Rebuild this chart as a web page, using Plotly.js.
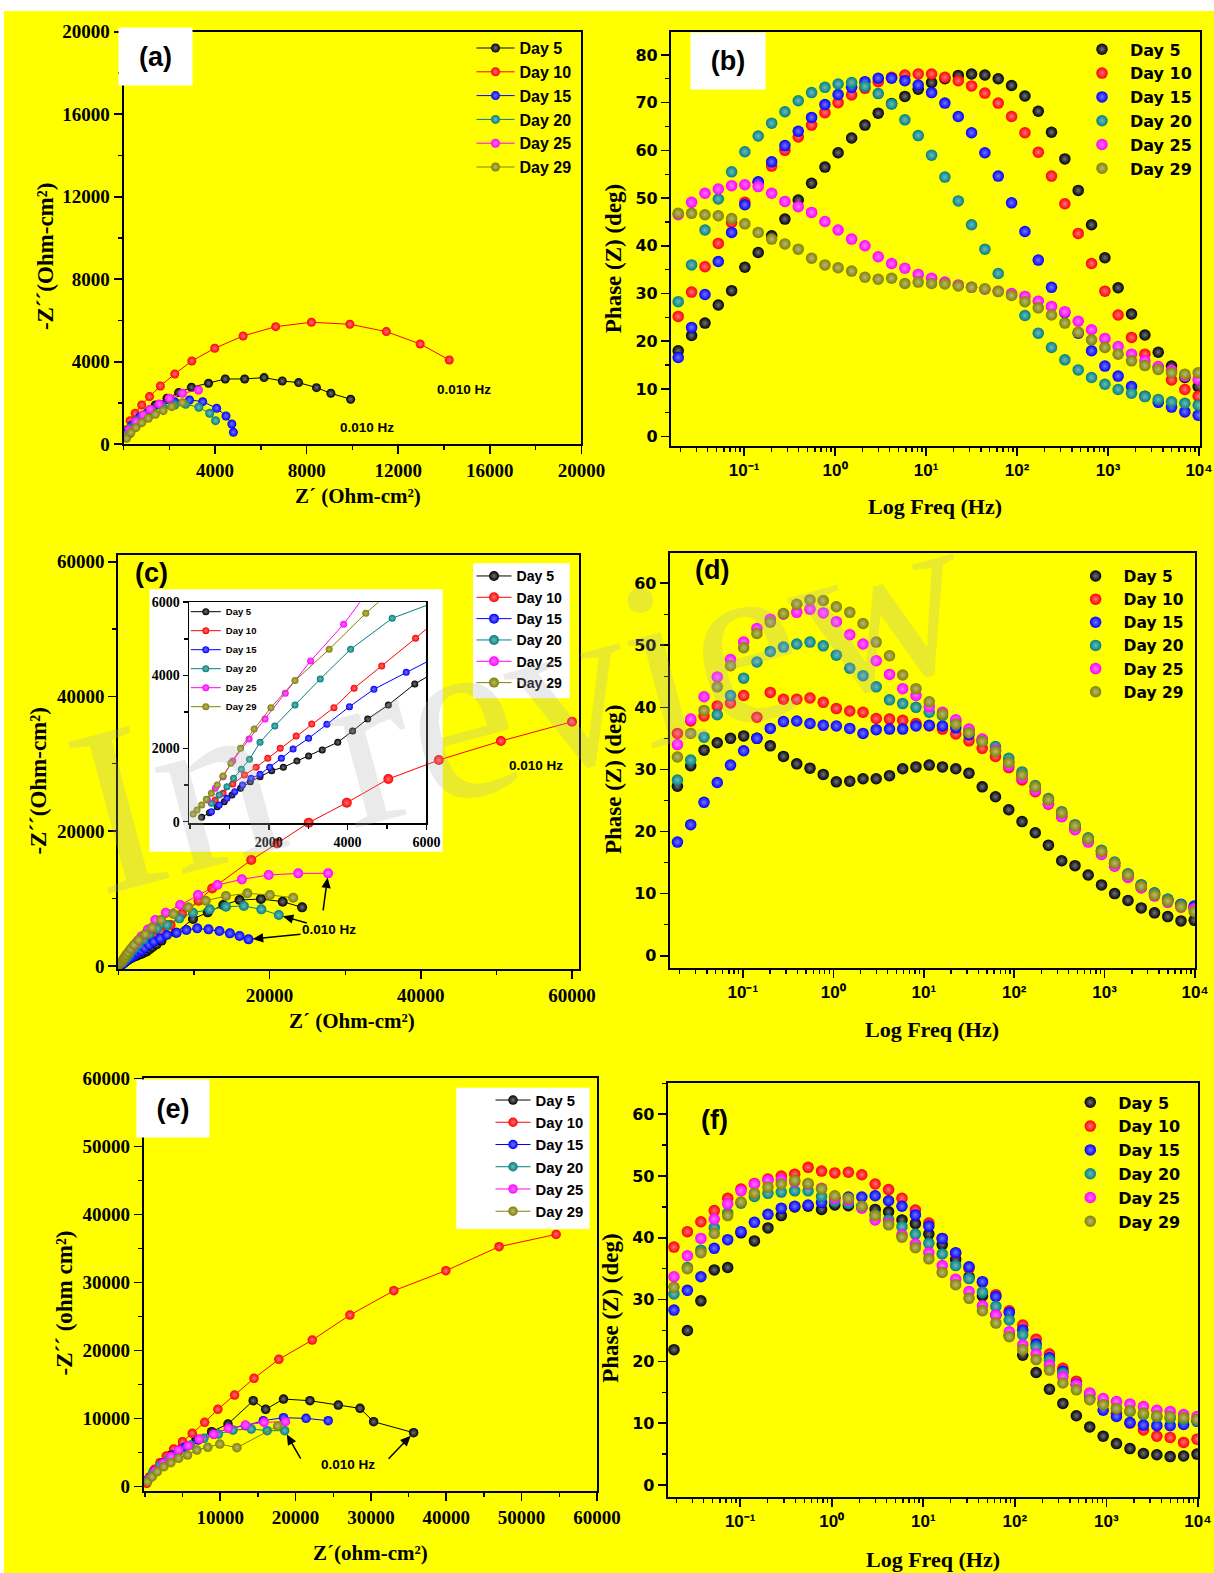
<!DOCTYPE html>
<html>
<head>
<meta charset="utf-8">
<script src="https://cdn.plot.ly/plotly-3.0.1.min.js"></script>
<style>
html,body{margin:0;padding:0;background:#ffffff;}
#chart{width:1214px;height:1573px;}
</style>
</head>
<body>
<div id="chart"></div>
<script>
// ---------------- DATA ----------------
const dayNames = ['Day 5', 'Day 10', 'Day 15', 'Day 20', 'Day 25', 'Day 29'];

// Frequencies (Hz) of the Bode points
const freqHz = [0.0189, 0.0265, 0.0372, 0.0521, 0.0730, 0.102, 0.143, 0.201, 0.281, 0.394,
  0.552, 0.774, 1.08, 1.52, 2.13, 2.98, 4.18, 5.85, 8.20, 11.5,
  16.1, 22.6, 31.6, 44.3, 62.1, 87.0, 122, 171, 239, 335,
  470, 658, 923, 1290, 1810, 2540, 3560, 4980, 6980, 9780];

// (a) Nyquist
const a_re_d5  = [288, 628, 1018, 1391, 1900, 2408, 2968, 3714, 4444, 5292, 6140, 6936, 7649, 8429, 9057, 9922];
const a_im_d5  = [533, 1018, 1503, 1907, 2230, 2505, 2763, 2957, 3167, 3167, 3232, 3070, 2990, 2747, 2472, 2182];
const a_re_d10 = [119, 288, 509, 797, 1136, 1611, 2239, 2985, 3986, 5224, 6648, 8209, 9888, 11481, 12957, 14229];
const a_im_d10 = [695, 1147, 1503, 1907, 2311, 2828, 3410, 4040, 4654, 5252, 5704, 5915, 5818, 5462, 4864, 4088];
const a_re_d15 = [119, 373, 712, 1136, 1645, 2239, 2883, 3460, 4070, 4477, 4732, 4800];
const a_im_d15 = [533, 937, 1341, 1665, 1907, 2068, 2149, 2068, 1745, 1374, 986, 582];
const a_re_d20 = [68, 254, 543, 882, 1272, 1730, 2239, 2714, 3290, 3765, 4020];
const a_im_d20 = [452, 776, 1147, 1422, 1632, 1794, 1907, 1939, 1794, 1503, 1147];
const a_re_d25 = [254, 543, 848, 1170, 1560, 2001, 2578, 3273];
const a_im_d25 = [695, 1099, 1422, 1697, 1955, 2230, 2472, 2634];
const a_re_d29 = [136, 322, 543, 797, 1085, 1391, 1730, 2103, 2578];
const a_im_d29 = [291, 566, 808, 1050, 1260, 1454, 1632, 1826, 2020];

// (b) Bode phase
const b_d5  = [18.0, 21.2, 23.8, 27.6, 30.6, 35.5, 38.6, 42.1, 45.6, 49.6, 53.1, 56.5, 59.5, 62.6, 65.3, 67.8, 69.8, 71.3, 72.8, 74.2, 75.0, 75.7, 76.0, 75.8, 75.0, 73.6, 71.4, 68.2, 63.8, 58.2, 51.6, 44.4, 37.5, 31.2, 25.7, 21.3, 17.7, 14.8, 12.4, 10.5];
const b_d10 = [25.2, 30.3, 35.6, 40.5, 44.9, 49.1, 53.3, 56.7, 60.0, 62.8, 65.3, 67.9, 70.0, 71.6, 73.0, 74.4, 75.3, 75.8, 76.0, 76.0, 75.3, 74.6, 73.5, 72.0, 69.9, 67.1, 63.7, 59.6, 54.6, 48.8, 42.6, 36.3, 30.5, 25.5, 20.8, 17.3, 14.5, 11.9, 9.9, 8.5];
const b_d15 = [16.6, 22.9, 29.8, 36.7, 42.8, 48.6, 53.4, 57.6, 61.0, 64.0, 66.9, 69.6, 71.7, 73.2, 74.4, 75.1, 75.1, 74.6, 73.7, 72.1, 69.9, 67.1, 63.7, 59.5, 54.6, 49.0, 43.0, 37.0, 31.3, 26.0, 21.7, 18.0, 14.8, 12.7, 10.5, 8.5, 7.2, 6.2, 5.2, 4.5];
const b_d20 = [28.3, 36.0, 43.3, 49.8, 55.5, 59.7, 63.0, 65.7, 68.1, 70.4, 72.1, 73.2, 73.9, 74.2, 73.4, 71.9, 69.7, 66.4, 63.1, 59.0, 54.4, 49.4, 44.4, 39.3, 34.2, 29.7, 25.4, 21.7, 18.7, 16.1, 14.0, 12.4, 11.0, 9.9, 9.1, 8.4, 7.8, 7.3, 7.0, 6.6];
const b_d25 = [46.5, 49.1, 51.0, 51.9, 52.6, 52.8, 52.4, 51.0, 49.3, 48.2, 47.0, 45.1, 43.3, 41.4, 40.0, 37.7, 36.3, 35.3, 34.0, 33.2, 32.4, 31.8, 31.3, 30.9, 30.5, 30.0, 29.4, 28.4, 27.3, 26.2, 24.2, 22.4, 20.6, 18.9, 17.3, 15.9, 14.7, 13.9, 12.7, 12.0];
const b_d29 = [46.8, 46.8, 46.5, 46.3, 45.7, 44.6, 42.8, 41.4, 40.4, 39.3, 37.4, 36.0, 35.4, 34.7, 33.4, 33.0, 33.2, 32.1, 32.4, 32.1, 32.0, 31.6, 31.3, 31.0, 30.4, 29.6, 28.3, 27.0, 25.5, 23.8, 21.9, 20.3, 18.7, 17.3, 15.9, 14.9, 14.1, 13.4, 13.1, 13.4];

// (c) Nyquist (also drawn in the inset)
const c_re_d5  = [296, 494, 691, 869, 1066, 1283, 1530, 1777, 2073, 2369, 2714, 3010, 3356, 3751, 4126, 4511, 5034, 5705, 7600, 9863, 11815, 13870, 16028, 18853, 21730, 24298];
const c_im_d5  = [119, 246, 410, 547, 730, 912, 1094, 1231, 1395, 1487, 1660, 1797, 1961, 2171, 2481, 2809, 3192, 3767, 4950, 6974, 7963, 9051, 9793, 9941, 9546, 8705];
const c_re_d10 = [641, 839, 1086, 1382, 1678, 1974, 2290, 2695, 3089, 3652, 4165, 4866, 5725, 6900, 8400, 10600, 12400, 17569, 21010, 25171, 30206, 35700, 42380, 50600, 60000];
const c_im_d10 = [593, 775, 1031, 1277, 1487, 1733, 2006, 2344, 2672, 3119, 3648, 4259, 5016, 6100, 7700, 9700, 11500, 15728, 18201, 21268, 24236, 27747, 30566, 33385, 36254];
const c_re_d15 = [543, 740, 938, 1135, 1332, 1550, 1777, 2023, 2319, 2616, 3010, 3474, 4047, 4668, 5488, 6421, 7706, 8990, 10428, 11918, 13356, 14743, 16028, 17209];
const c_im_d15 = [274, 456, 638, 821, 1003, 1186, 1295, 1487, 1733, 1988, 2280, 2663, 3146, 3621, 4086, 4600, 4946, 5342, 5589, 5441, 5193, 4847, 4451, 3957];
const c_re_d20 = [543, 740, 938, 1105, 1303, 1510, 1777, 2152, 2665, 3306, 4076, 5132, 6421, 8065, 9863, 12072, 14230, 16592, 18904, 21216];
const c_im_d20 = [502, 730, 958, 1186, 1432, 1705, 2171, 2617, 3192, 3903, 4715, 5563, 6084, 7073, 7914, 8408, 8804, 8903, 8408, 7567];
const c_re_d25 = [444, 641, 839, 1086, 1500, 1905, 2418, 3060, 3899, 4880, 6267, 8168, 10531, 13100, 16336, 19880, 23784, 27740];
const c_im_d25 = [593, 912, 1231, 1660, 2262, 2809, 3511, 4396, 5399, 6826, 7914, 9051, 10535, 12019, 12860, 13503, 13750, 13750];
const c_re_d29 = [79, 178, 296, 415, 543, 691, 839, 1036, 1283, 1629, 2053, 2665, 3533, 4461, 5651, 7295, 9247, 11558, 14230, 17055, 20034, 23117];
const c_im_d29 = [210, 319, 456, 611, 775, 1003, 1249, 1596, 2006, 2535, 3119, 3858, 4715, 5700, 6825, 7716, 8705, 9694, 10387, 10782, 10535, 10139];

// (d) Bode phase
const d_d5  = [27.3, 30.6, 33.1, 34.3, 35.0, 35.4, 35.0, 33.8, 32.1, 30.9, 30.2, 29.2, 28.0, 28.1, 28.5, 28.5, 29.0, 30.1, 30.4, 30.7, 30.4, 30.1, 29.4, 27.2, 25.6, 23.5, 21.6, 19.8, 17.8, 15.3, 14.5, 13.0, 11.4, 10.0, 8.9, 7.7, 6.9, 6.3, 5.6, 5.7];
const d_d10 = [35.8, 37.8, 38.6, 40.2, 40.7, 41.9, 38.4, 42.4, 41.3, 41.3, 41.5, 40.8, 39.8, 39.4, 39.2, 38.2, 38.1, 37.9, 37.4, 37.0, 36.5, 35.7, 34.6, 33.4, 32.1, 30.3, 28.3, 26.4, 24.4, 22.4, 20.4, 18.4, 16.4, 14.5, 12.7, 11.0, 9.8, 8.9, 8.2, 7.9];
const d_d15 = [18.3, 21.1, 24.7, 27.9, 30.7, 33.0, 35.0, 36.6, 37.7, 37.8, 37.4, 37.1, 37.0, 36.6, 35.8, 36.4, 36.5, 36.5, 37.0, 37.1, 37.0, 36.7, 35.6, 34.5, 33.0, 31.2, 29.1, 27.1, 25.0, 22.9, 20.8, 18.8, 16.8, 14.9, 13.1, 11.4, 10.1, 9.1, 8.3, 8.0];
const d_d20 = [28.3, 31.5, 35.2, 38.8, 41.9, 44.7, 47.3, 49.0, 49.7, 50.2, 50.5, 49.9, 48.4, 46.3, 45.1, 43.3, 41.2, 40.6, 40.0, 39.2, 38.7, 37.8, 36.3, 34.8, 33.7, 31.8, 29.6, 27.4, 25.3, 23.2, 21.1, 19.0, 17.0, 15.1, 13.2, 11.4, 10.1, 9.1, 8.2, 7.6];
const d_d25 = [34.0, 38.1, 41.7, 44.9, 47.7, 50.5, 52.7, 54.2, 55.0, 55.3, 55.8, 55.2, 53.8, 51.7, 50.2, 47.5, 45.3, 43.0, 41.9, 40.1, 39.2, 38.0, 36.5, 34.9, 33.1, 30.6, 28.6, 26.6, 24.5, 22.4, 20.3, 18.3, 16.3, 14.4, 12.6, 10.9, 9.6, 8.6, 7.8, 7.5];
const d_d29 = [32.0, 35.8, 39.5, 43.3, 46.7, 49.6, 51.9, 53.7, 55.1, 56.6, 57.3, 57.2, 56.2, 55.3, 53.5, 50.5, 48.3, 45.2, 43.0, 40.9, 38.9, 37.3, 35.9, 34.5, 32.9, 31.1, 29.1, 27.2, 25.1, 23.0, 20.9, 18.8, 16.8, 14.9, 13.0, 11.2, 9.8, 8.8, 7.9, 7.1];

// (e) Nyquist
const e_re_d5  = [361, 1134, 2165, 3454, 5000, 6805, 8867, 11031, 14382, 16032, 18403, 21909, 25672, 28559, 30363, 35673];
const e_im_d5  = [979, 2204, 3428, 4652, 5876, 6954, 8080, 9206, 12634, 11361, 12879, 12634, 11998, 11508, 9549, 7933];
const e_re_d10 = [258, 670, 1289, 2010, 2835, 3815, 5000, 6289, 7939, 9692, 11908, 14486, 17785, 22218, 27218, 33044, 39951, 47014, 54591];
const e_im_d10 = [490, 1469, 2546, 3526, 4505, 5534, 6611, 7835, 9451, 11361, 13467, 15915, 18707, 21547, 25220, 28794, 31733, 35258, 37070];
const e_re_d15 = [515, 1289, 2320, 3712, 5258, 7062, 9124, 11186, 13351, 15723, 18403, 21393, 24332];
const e_im_d15 = [1224, 2351, 3428, 4652, 5778, 6856, 7737, 8570, 8962, 9696, 10137, 10039, 9696];
const e_re_d20 = [361, 1031, 2010, 3196, 4485, 6031, 7836, 9743, 11702, 14125, 16238, 18558];
const e_im_d20 = [979, 2057, 3183, 4162, 5142, 6121, 7101, 7737, 8325, 8472, 8227, 8227];
const e_re_d25 = [619, 1392, 2423, 3454, 4485, 5774, 7217, 9124, 11083, 13351, 15826, 18661];
const e_im_d25 = [1224, 2351, 3428, 4407, 5387, 6023, 7003, 7688, 8570, 9059, 9451, 9549];
const e_re_d29 = [361, 979, 1650, 2526, 3454, 4485, 5671, 6908, 8351, 9949, 12217, 17630];
const e_im_d29 = [735, 1469, 2204, 2938, 3526, 4162, 4652, 5387, 5778, 6268, 5729, 8913];

// (f) Bode phase
const f_d5  = [21.9, 25.0, 29.8, 34.8, 35.2, 40.8, 39.5, 41.6, 43.6, 45.0, 45.1, 44.6, 45.3, 45.2, 45.0, 44.6, 44.2, 42.9, 42.3, 40.6, 38.9, 36.5, 33.7, 30.6, 27.5, 24.2, 21.0, 18.2, 15.5, 13.2, 11.2, 9.4, 7.9, 6.7, 5.9, 5.1, 4.9, 4.6, 4.7, 5.0];
const f_d10 = [38.5, 41.0, 42.6, 44.4, 46.4, 47.9, 48.8, 49.5, 50.0, 50.3, 51.4, 50.8, 50.5, 50.6, 50.2, 48.7, 47.8, 46.4, 44.5, 42.4, 39.9, 37.5, 35.1, 32.8, 30.8, 28.2, 25.9, 23.6, 21.2, 18.9, 16.8, 14.8, 13.2, 11.6, 10.0, 8.9, 7.9, 7.7, 6.9, 7.4];
const f_d15 = [28.3, 31.5, 33.7, 38.3, 39.7, 41.0, 42.5, 43.8, 44.8, 45.1, 45.3, 45.7, 46.4, 46.6, 46.6, 46.8, 46.0, 45.1, 43.7, 41.9, 39.9, 37.6, 35.3, 32.9, 30.5, 27.9, 25.1, 22.8, 20.6, 18.4, 16.3, 14.0, 12.1, 11.1, 10.1, 9.7, 9.6, 9.6, 9.8, 10.3];
const f_d20 = [30.9, 35.2, 38.0, 41.6, 44.0, 45.6, 46.7, 47.2, 47.4, 47.6, 47.6, 46.7, 45.9, 45.6, 45.0, 43.7, 42.9, 41.8, 40.6, 39.1, 37.4, 35.5, 33.4, 31.2, 28.9, 26.7, 24.3, 22.3, 20.2, 18.1, 16.2, 14.6, 13.3, 12.4, 11.9, 11.4, 11.0, 10.8, 10.6, 10.4];
const f_d25 = [33.7, 37.1, 39.9, 43.0, 45.5, 47.6, 48.7, 49.3, 49.4, 49.1, 48.7, 48.0, 46.4, 46.1, 44.8, 42.9, 42.4, 40.5, 39.0, 37.6, 35.5, 33.3, 31.3, 29.0, 27.5, 24.8, 22.7, 21.2, 19.4, 17.5, 16.2, 14.9, 14.0, 13.5, 13.1, 12.7, 12.1, 11.9, 11.4, 11.1];
const f_d29 = [32.0, 35.0, 37.6, 40.7, 43.6, 45.8, 47.2, 48.2, 48.7, 49.3, 48.8, 47.9, 46.8, 46.4, 45.1, 43.6, 42.1, 40.1, 38.4, 36.6, 34.4, 32.4, 30.2, 28.2, 26.2, 24.0, 21.9, 20.3, 18.6, 16.5, 15.4, 13.8, 13.0, 12.4, 12.0, 11.6, 11.2, 11.1, 10.9, 10.6];

// Tick labels
const nyqA_ticks = [0, 4000, 8000, 12000, 16000, 20000];
const nyqC_ticks = [0, 20000, 40000, 60000];
const nyqE_ticks = [0, 10000, 20000, 30000, 40000, 50000, 60000];
const inset_ticks = [0, 2000, 4000, 6000];
const logTickVals = [0.1, 1, 10, 100, 1000, 10000];
const logTickText = ['10\u207b\u00b9', '10\u2070', '10\u00b9', '10\u00b2', '10\u00b3', '10\u2074'];
const phaseB_ticks = [0, 10, 20, 30, 40, 50, 60, 70, 80];
const phaseDF_ticks = [0, 10, 20, 30, 40, 50, 60];
const lowFreqLabel = '0.010 Hz';

// ---------------- STYLE ----------------
const W = 1214, H = 1573;
const px = v => v / W;
const py = v => 1 - v / H;
const dayColors = ['#000000', '#FF0000', '#0000FF', '#008080', '#FF00FF', '#808000'];
const SERIF = '"Liberation Serif", "Times New Roman", Times, serif';
const SANS = '"Liberation Sans", Arial, Helvetica, sans-serif';
const WIDE = '"DejaVu Sans", Verdana, sans-serif';

function lighten(hex, f) {
  const n = parseInt(hex.slice(1), 16);
  const r = (n >> 16) & 255, g = (n >> 8) & 255, b = n & 255;
  const m = c => Math.round(c + (255 - c) * f);
  return 'rgb(' + m(r) + ',' + m(g) + ',' + m(b) + ')';
}
function ball(color, size) {
  return {color: color, size: size, line: {width: 0},
          gradient: {type: 'radial', color: lighten(color, 0.45)}};
}

const traces = [];
function addNyq(reList, imList, xa, ya, leg, size) {
  reList.forEach((re, k) => {
    traces.push({type: 'scatter', mode: 'lines+markers', x: re, y: imList[k],
      name: dayNames[k], xaxis: xa, yaxis: ya, legend: leg,
      line: {color: dayColors[k], width: 1}, marker: ball(dayColors[k], size),
      hoverinfo: 'skip'});
  });
}
function addPhase(list, xa, ya, leg, size) {
  list.forEach((vals, k) => {
    traces.push({type: 'scatter', mode: 'markers', x: freqHz, y: vals,
      name: dayNames[k], xaxis: xa, yaxis: ya, legend: leg,
      marker: ball(dayColors[k], size), hoverinfo: 'skip'});
  });
}

addNyq([a_re_d5, a_re_d10, a_re_d15, a_re_d20, a_re_d25, a_re_d29],
       [a_im_d5, a_im_d10, a_im_d15, a_im_d20, a_im_d25, a_im_d29], 'x', 'y', 'legend', 9);
addPhase([b_d5, b_d10, b_d15, b_d20, b_d25, b_d29], 'x2', 'y2', 'legend2', 11.5);
const cRe = [c_re_d5, c_re_d10, c_re_d15, c_re_d20, c_re_d25, c_re_d29];
const cIm = [c_im_d5, c_im_d10, c_im_d15, c_im_d20, c_im_d25, c_im_d29];
addNyq(cRe, cIm, 'x3', 'y3', 'legend3', 10);
addPhase([d_d5, d_d10, d_d15, d_d20, d_d25, d_d29], 'x4', 'y4', 'legend4', 11.5);
addNyq([e_re_d5, e_re_d10, e_re_d15, e_re_d20, e_re_d25, e_re_d29],
       [e_im_d5, e_im_d10, e_im_d15, e_im_d20, e_im_d25, e_im_d29], 'x5', 'y5', 'legend5', 9.5);
addPhase([f_d5, f_d10, f_d15, f_d20, f_d25, f_d29], 'x6', 'y6', 'legend6', 11.5);
addNyq(cRe, cIm, 'x7', 'y7', 'legend7', 7);

// axes
function baseAxis(extra) {
  return Object.assign({
    showline: true, linewidth: 2, linecolor: 'black', mirror: true,
    ticks: 'outside', ticklen: 8, tickwidth: 1.6, tickcolor: 'black',
    showgrid: false, zeroline: false, fixedrange: true
  }, extra);
}
function nyqAxis(domain, range, tickvals, minorStep, anchor, fs) {
  return baseAxis({domain: domain, range: range, anchor: anchor,
    tickmode: 'array', tickvals: tickvals, tickformat: 'd', separatethousands: false,
    tickfont: {family: SERIF, size: fs, weight: 'bold', color: 'black'},
    minor: {tickmode: 'linear', tick0: 0, dtick: minorStep, ticks: 'outside', ticklen: 4, tickwidth: 1.3, tickcolor: 'black'}});
}
function logAxis(domain, range, anchor) {
  return baseAxis({domain: domain, type: 'log', range: range, anchor: anchor,
    tickmode: 'array', tickvals: logTickVals, ticktext: logTickText,
    tickfont: {family: SANS, size: 17, weight: 'bold', color: 'black'},
    minor: {dtick: 'D1', ticks: 'outside', ticklen: 4, tickwidth: 1.3, tickcolor: 'black'}});
}
function phaseAxis(domain, range, tickvals, anchor) {
  return baseAxis({domain: domain, range: range, anchor: anchor,
    tickmode: 'array', tickvals: tickvals,
    tickfont: {family: WIDE, size: 16, weight: 'bold', color: 'black'},
    minor: {tickmode: 'linear', tick0: 0, dtick: 5, ticks: 'outside', ticklen: 4, tickwidth: 1.3, tickcolor: 'black'}});
}

function legendAt(left, top, fam, fs, extra) {
  return Object.assign({x: px(left), y: py(top), xanchor: 'left', yanchor: 'top',
    bgcolor: 'rgba(0,0,0,0)', borderwidth: 0, tracegroupgap: 0,
    font: {family: fam, size: fs, weight: 'bold', color: 'black'}}, extra || {});
}

function label(text, x, y, fs, fam, extra) {
  return Object.assign({text: text, xref: 'paper', yref: 'paper', x: px(x), y: py(y),
    xanchor: 'center', yanchor: 'middle', showarrow: false,
    font: {family: fam, size: fs, weight: 'bold', color: 'black'}}, extra || {});
}

// Arrow drawn as a pixel-sized path anchored at the last point of a curve.
// (dx, dy): tail offset in screen pixels from that point (dy positive = downwards)
function arrowShape(xa, ya, re, im, dx, dy) {
  const L = Math.hypot(dx, dy), ux = dx / L, uy = -dy / L;
  const s = 6, hl = 8, hw = 3.5;
  const tipX = ux * s, tipY = uy * s;
  const bx = tipX + ux * hl, by = tipY + uy * hl;
  const nx = -uy, ny = ux;
  const f = v => v.toFixed(2);
  const path = 'M' + f(dx) + ',' + f(-dy) + 'L' + f(bx) + ',' + f(by) +
    'M' + f(bx + nx * hw) + ',' + f(by + ny * hw) + 'L' + f(tipX) + ',' + f(tipY) +
    'L' + f(bx - nx * hw) + ',' + f(by - ny * hw) + 'Z';
  return {type: 'path', xref: xa, yref: ya, xsizemode: 'pixel', ysizemode: 'pixel',
    xanchor: re[re.length - 1], yanchor: im[im.length - 1], path: path,
    line: {color: 'black', width: 1.5}, fillcolor: 'black', layer: 'above'};
}

const annotations = [
  // watermark
  {text: 'In review', xref: 'paper', yref: 'paper', x: px(520), y: py(700), xanchor: 'center', yanchor: 'middle',
   showarrow: false, textangle: -15, font: {family: SERIF, size: 240, color: 'rgba(175,175,175,0.26)'}},
  // panel labels
  label('(a)', 155.5, 56.7, 27, SANS, {bgcolor: 'white', width: 71, height: 55}),
  label('(b)', 727.6, 61.3, 27, SANS, {bgcolor: 'white', width: 72, height: 54}),
  label('(c)', 151.5, 573.3, 27, SANS),
  label('(d)', 712.4, 570, 27, SANS),
  label('(e)', 172.6, 1108, 27, SANS, {bgcolor: 'white', width: 70, height: 55}),
  label('(f)', 714.3, 1120, 27, SANS),
  // axis titles
  label('Z\u00b4 (Ohm-cm\u00b2)', 358.3, 496, 21, SERIF),
  label('-Z\u00b4\u00b4(Ohm-cm\u00b2)', 45.4, 256.7, 23, SERIF, {textangle: -90}),
  label('Log Freq (Hz)', 934.9, 506.7, 22, SERIF),
  label('Phase (Z) (deg)', 613.7, 258.5, 23, SERIF, {textangle: -90}),
  label('Z\u00b4 (Ohm-cm\u00b2)', 351.6, 1021.3, 21, SERIF),
  label('-Z\u00b4\u00b4(Ohm-cm\u00b2)', 38.8, 780.8, 23, SERIF, {textangle: -90}),
  label('Log Freq (Hz)', 932.4, 1029, 22, SERIF),
  label('Phase (Z) (deg)', 612.9, 779.2, 23, SERIF, {textangle: -90}),
  label('Z\u00b4(ohm-cm\u00b2)', 370.3, 1553, 21, SERIF),
  label('-Z\u00b4\u00b4 (ohm cm\u00b2)', 64.1, 1303.3, 23, SERIF, {textangle: -90}),
  label('Log Freq (Hz)', 932.8, 1559, 22, SERIF),
  label('Phase (Z) (deg)', 611, 1308.8, 23, SERIF, {textangle: -90}),
  // low-frequency labels
  label(lowFreqLabel, 464, 389.3, 13.5, SANS),
  label(lowFreqLabel, 367, 427.3, 13.5, SANS),
  label(lowFreqLabel, 535.9, 765.7, 13.5, SANS),
  label(lowFreqLabel, 329.3, 929, 13.5, SANS),
  label(lowFreqLabel, 347.6, 1464.3, 13.5, SANS)
];

const shapes = [
  {type: 'rect', xref: 'paper', yref: 'paper', x0: px(4), x1: 1, y0: 0, y1: py(11),
   fillcolor: '#FFFF00', line: {width: 0}, layer: 'below'},
  {type: 'rect', xref: 'paper', yref: 'paper', x0: px(149.5), x1: px(442.7), y0: py(851.7), y1: py(589.3),
   fillcolor: '#FFFFFF', line: {width: 0}, layer: 'below'},
  {type: 'rect', xref: 'paper', yref: 'paper', x0: px(473), x1: px(569.7), y0: py(698.3), y1: py(563.3),
   fillcolor: '#FFFFFF', line: {width: 0}, layer: 'below'},
  {type: 'rect', xref: 'paper', yref: 'paper', x0: px(456.3), x1: px(589.5), y0: py(1229), y1: py(1087.7),
   fillcolor: '#FFFFFF', line: {width: 0}, layer: 'below'},
  arrowShape('x3', 'y3', c_re_d25, c_im_d25, -5, 37),
  arrowShape('x3', 'y3', c_re_d20, c_im_d20, 28, 8),
  arrowShape('x3', 'y3', c_re_d15, c_im_d15, 52, -5),
  arrowShape('x5', 'y5', e_re_d20, e_im_d20, 16, 28),
  arrowShape('x5', 'y5', e_re_d5, e_im_d5, -25, 26)
];

const layout = {
  width: W, height: H,
  margin: {l: 0, r: 0, t: 0, b: 0, pad: 0, autoexpand: false},
  paper_bgcolor: '#FFFFFF', plot_bgcolor: 'rgba(0,0,0,0)',
  showlegend: true, hovermode: false,
  xaxis:  nyqAxis([px(123.5), px(581.4)], [0, 20000], nyqA_ticks.slice(1), 2000, 'y', 19),
  yaxis:  nyqAxis([py(444.3), py(31.7)], [0, 20000], nyqA_ticks, 2000, 'x', 19),
  xaxis2: logAxis([px(670.9), px(1199.8)], [-1.804, 4.008], 'y2'),
  yaxis2: phaseAxis([py(446), py(32)], [-1.95, 84.8], phaseB_ticks, 'x2'),
  xaxis3: nyqAxis([px(118.4), px(578.6)], [0, 60870], nyqC_ticks.slice(1), 10000, 'y3', 19),
  yaxis3: nyqAxis([py(969.3), py(555)], [-490, 60995], nyqC_ticks, 10000, 'x3', 19),
  xaxis4: logAxis([px(669.7), px(1195.1)], [-1.809, 4.0], 'y4'),
  yaxis4: phaseAxis([py(967.7), py(552.7)], [-1.93, 64.9], phaseDF_ticks, 'x4'),
  xaxis5: nyqAxis([px(143.7), px(596.9)], [-154, 60000], nyqE_ticks.slice(1), 5000, 'y5', 19),
  yaxis5: nyqAxis([py(1490.7), py(1078.3)], [-588, 60000], nyqE_ticks, 5000, 'x5', 19),
  xaxis6: logAxis([px(667.7), px(1197.9)], [-1.792, 4.0], 'y6'),
  yaxis6: phaseAxis([py(1496.7), py(1083.3)], [-1.89, 65.0], phaseDF_ticks, 'x6'),
  xaxis7: Object.assign(nyqAxis([px(189.1), px(426.4)], [-23, 6000], inset_ticks.slice(1), 1000, 'y7', 14), {linewidth: 1.5, ticklen: 5}),
  yaxis7: Object.assign(nyqAxis([py(823.3), py(602.3)], [-44, 6000], inset_ticks, 1000, 'x7', 14), {linewidth: 1.5, ticklen: 5}),
  legend:  legendAt(471.5, 31.1, SANS, 16, {itemwidth: 38}),
  legend2: legendAt(1074, 32.4, WIDE, 16, {itemwidth: 46}),
  legend3: legendAt(471.5, 560.3, SANS, 14.1, {itemwidth: 35}),
  legend4: legendAt(1067.6, 559.4, WIDE, 15.5, {itemwidth: 46}),
  legend5: legendAt(490.5, 1083.9, SANS, 14.8, {itemwidth: 35}),
  legend6: legendAt(1062.3, 1085.4, WIDE, 16, {itemwidth: 46}),
  legend7: legendAt(185.8, 597.2, SANS, 9.5),
  annotations: annotations,
  shapes: shapes
};

Plotly.newPlot('chart', traces, layout, {staticPlot: true, displayModeBar: false});
</script>
</body>
</html>
